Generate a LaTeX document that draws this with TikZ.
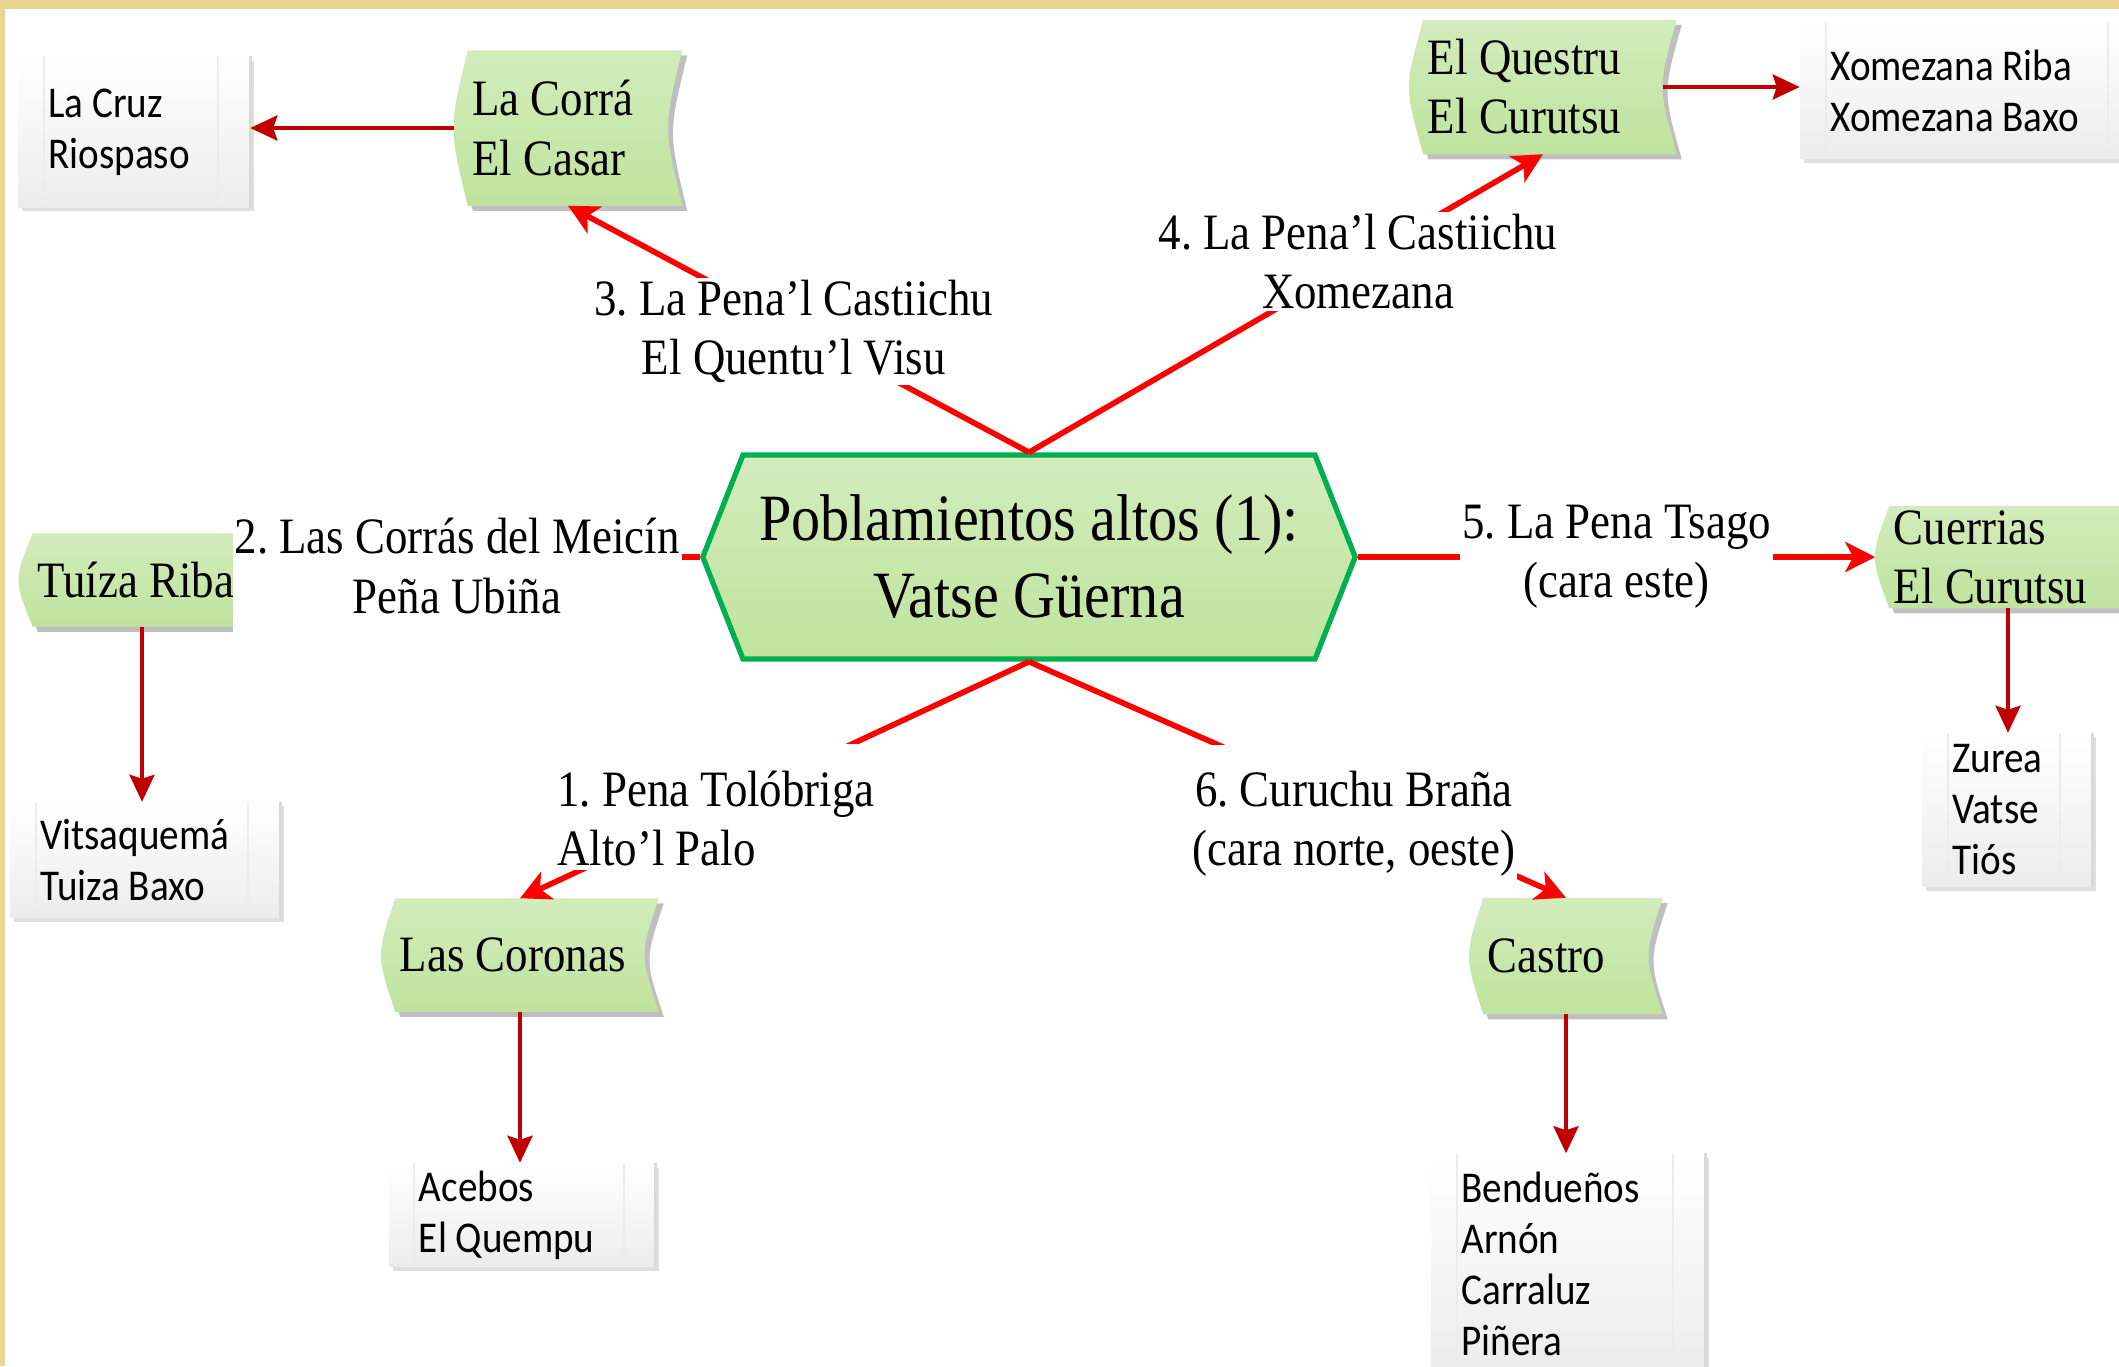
\documentclass[tikz,border=0pt]{standalone}
\usepackage{fontspec}
\setmainfont{Liberation Serif}[FakeStretch=0.88]
\newfontfamily\calib{Carlito}[FakeStretch=0.89]
\usetikzlibrary{shapes.symbols, arrows.meta, positioning, backgrounds, shadows}
\definecolor{brightred}{RGB}{255,0,0}
\definecolor{darkred}{RGB}{192,0,0}
\definecolor{hubgreen}{RGB}{0,176,80}
\definecolor{leafA}{RGB}{210,236,188}
\definecolor{leafB}{RGB}{192,227,158}
\definecolor{boxgray}{RGB}{236,236,236}
\definecolor{framecol}{RGB}{236,212,146}
\newcommand{\topstrut}{\rule{0pt}{0.60cm}}
\newcommand{\botstrut}{\rule[-0.03cm]{0pt}{0.03cm}}
\tikzset{
  hub/.style={signal, signal to=west and east, signal pointer angle=137, draw=hubgreen, line width=1.5pt, top color=leafA, bottom color=leafB, minimum width=6.52cm, minimum height=2.04cm, inner sep=0pt, align=center, font=\fontsize{18.8}{21.9}\selectfont},
  place/.style={rectangle, inner xsep=0.18cm, inner ysep=0pt, align=flush left, font=\fontsize{14.5}{16.8}\selectfont},
  village/.style={rectangle, top color=white, bottom color=boxgray, inner xsep=0.3cm, inner ysep=0pt, align=flush left, font=\calib\fontsize{12.5}{14.5}\selectfont, drop shadow={shadow xshift=0.04cm, shadow yshift=-0.04cm, opacity=0.25}},
  peak/.style={fill=white, inner sep=0.02cm, align=center, font=\fontsize{14.5}{16.8}\selectfont},
  ridge/.style={draw=brightred, line width=1.6pt},
  ridgearrow/.style={ridge, -{Stealth[length=0.3cm, width=0.3cm, inset=0.08cm]}},
  arrow/.style={draw=darkred, line width=1.1pt, -{Stealth[length=0.27cm, width=0.25cm, inset=0.04cm]}},
  boxline/.style={draw=gray!15, line width=0.6pt},
  boxedge/.style={draw=gray!30, line width=0.8pt},
  leaf path/.style={insert path={([xshift=0.14cm]#1.north west) -- (#1.north east) .. controls ([xshift=-0.19cm]#1.east) .. (#1.south east) -- ([xshift=0.14cm]#1.south west) .. controls ([xshift=-0.05cm]#1.west) .. ([xshift=0.14cm]#1.north west) -- cycle}},
}

\begin{document}
\frenchspacing
\begin{tikzpicture}[x=0.01cm, y=-0.01cm]
  \useasboundingbox (0,0) rectangle (2119,1366);

  % centre
  \node[hub] (hub) at (1029,557) {Poblamientos altos (1):\\Vatse Güerna};

  % peaks (green)
  \node[place, text width=1.91cm, minimum height=1.54cm] (corra) at (568,128) {La Corrá\\El Casar};
  \node[place, text width=2.30cm, minimum height=1.33cm] (questru) at (1543,87) {El Questru\\El Curutsu};
  \node[place, text width=2.09cm, minimum height=0.92cm] (tuiza) at (142,580) {Tuíza Riba};
  \node[place, text width=2.28cm, minimum height=1.01cm] (cuerrias) at (2008,557) {Cuerrias\\El Curutsu};
  \node[place, text width=2.40cm, minimum height=1.12cm] (coronas) at (520,955) {Las Coronas};
  \node[place, text width=1.56cm, minimum height=1.15cm] (castro) at (1566,956) {Castro};

  % villages (grey)
  \node[village, text width=1.71cm, minimum height=1.50cm] (cruz) at (134,132) {La Cruz\\Riospaso};
  \node[village, text width=2.79cm, minimum height=1.35cm] (xomez) at (1970,91) {Xomezana Riba\\Xomezana Baxo};
  \node[village, text width=2.09cm, minimum height=1.15cm] (vits) at (145,860) {Vitsaquemá\\Tuiza Baxo};
  \node[village, text width=1.09cm, minimum height=1.53cm] (zurea) at (2007,810) {Zurea\\Vatse\\Tiós};
  \node[village, text width=2.06cm, minimum height=1.03cm] (acebos) at (522,1215) {Acebos\\El Quempu};
  \node[village, text width=2.13cm, minimum height=2.20cm] (bendu) at (1568,1264) {Bendueños\\Arnón\\Carraluz\\Piñera};
  \foreach \n in {cruz,xomez,vits,zurea,acebos,bendu}{
    \draw[boxline] ([xshift=0.26cm]\n.north west) -- ([xshift=0.26cm]\n.south west);
    \draw[boxline] ([xshift=-0.32cm]\n.north east) -- ([xshift=-0.32cm]\n.south east);
    \draw[boxedge] (\n.north east) -- (\n.south east);
  }

  % routes
  \draw[ridgearrow] (hub.north) -- node[peak, pos=0.51, yshift=-0.05cm] (l3) {3. La Pena’l Castiichu\\El Quentu’l Visu} (corra.south);
  \draw[ridgearrow] (hub.north) -- node[peak, pos=0.64] (l4) {4. La Pena’l Castiichu\\Xomezana} (questru.south);
  \node[peak, inner ysep=0.18cm] (l2) at (457,566) {2. Las Corrás del Meicín\\Peña Ubiña};
  \draw[ridge] (hub.west) -- (hub.west -| l2.east);
  \draw[ridgearrow] (hub.east) -- node[peak, pos=0.5] (l5) {5. La Pena Tsago\\(cara este)} (cuerrias.west);
  \draw[ridgearrow] (hub.south) -- node[peak, align=left, pos=0.615] (l1) {\topstrut1. Pena Tolóbriga\\Alto’l Palo\botstrut} (coronas.north);
  \draw[ridgearrow] (hub.south) -- node[peak, pos=0.605, yshift=-0.07cm] (l6) {\topstrut6. Curuchu Braña\\(cara norte, oeste)\botstrut} (castro.north);

  \draw[arrow] (corra.west) -- (corra.west -| cruz.east);
  \draw[arrow] ([xshift=-0.14cm]questru.east) -- (questru.east -| xomez.west);
  \draw[arrow] (tuiza.south) -- (tuiza.south |- vits.north);
  \draw[arrow] (cuerrias.south) -- (cuerrias.south |- zurea.north);
  \draw[arrow] (coronas.south) -- (coronas.south |- acebos.north);
  \draw[arrow] (castro.south) -- (castro.south |- bendu.north);

  \begin{scope}[on background layer]
    \fill[framecol] (0,0) rectangle (2119,1366);
    \fill[white] (5,9) rectangle (2119,1366);
    \foreach \n in {corra,questru,tuiza,cuerrias,coronas,castro}{
      \fill[black!25, transform canvas={xshift=0.05cm, yshift=-0.05cm}, leaf path=\n];
      \shade[top color=leafA, bottom color=leafB, leaf path=\n];
    }
  \end{scope}
\end{tikzpicture}
\end{document}
